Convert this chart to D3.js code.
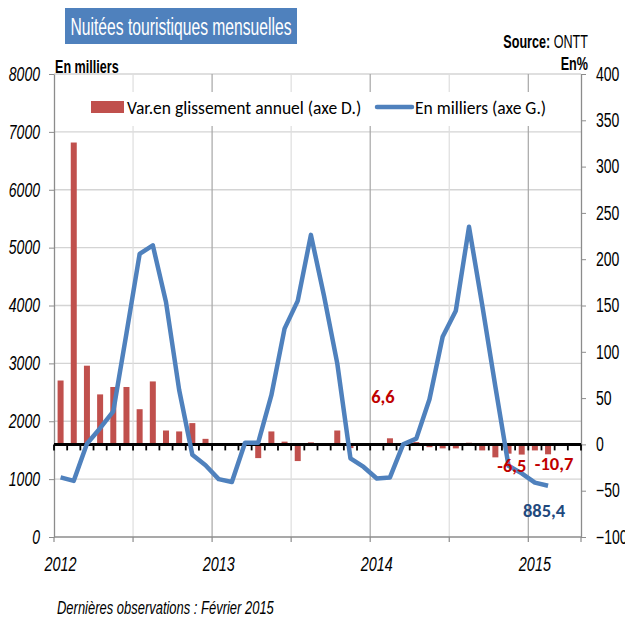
<!DOCTYPE html>
<html>
<head>
<meta charset="utf-8">
<script src="https://cdn.jsdelivr.net/npm/d3@7"></script>
<style>
  body { margin: 0; background: #fff; }
  .narrow { font-family: "Liberation Sans", Arial, sans-serif; }
  .cal { font-family: Carlito, Calibri, Lato, sans-serif; }
</style>
</head>
<body>
<svg id="chart" width="625" height="621"></svg>
<script>
// months Jan 2012 .. Apr 2015 (axis runs to May 2015)
const months = d3.timeMonth.range(new Date(2012, 0, 1), new Date(2015, 4, 1));

// nuitées, en milliers (axe G.), Jan 2012 .. Feb 2015
const nuitees = [
  1030, 970, 1610, 1880, 2170, 3520, 4890, 5040, 4060, 2540, 1420, 1240,
  1000, 950, 1630, 1630, 2450, 3600, 4080, 5220, 4160, 3000, 1360, 1210,
  1010, 1030, 1600, 1700, 2380, 3460, 3910, 5360, 4010, 2600, 1230, 1100,
  940, 885.4
];

// variation en glissement annuel, % (axe D.)
const variation = [
  69, 326, 85, 54, 62, 62, 38, 68, 15, 14, 23, 6,
  -1.2, -1.2, 0.4, -14.8, 14, 3, -18, 2.2, 1.2, 15, -4, 0.3,
  0.4, 6.6, 0.6, 2.5, -3, -4.3, -4.3, 1.8, -6.5, -14, -10, -11,
  -6.5, -10.7
];

const leftTicks = d3.range(0, 8001, 1000);
const rightTicks = d3.range(-100, 401, 50);
const yearLabels = ["2012", "2013", "2014", "2015"];

const svg = d3.select("#chart");
const pLeft = 54, pRight = 581, pTop = 74, pBottom = 537;

const x = d3.scaleBand().domain(months).range([pLeft, pRight]).padding(0);
const xc = d => x(d) + x.bandwidth() / 2;
const yL = d3.scaleLinear().domain([0, 8000]).range([pBottom, pTop]);
const yR = d3.scaleLinear().domain([-100, 400]).range([pBottom, pTop]);

// title
svg.append("rect").attr("x", 65).attr("y", 8).attr("width", 232).attr("height", 36)
  .attr("fill", "#4f81bd");
svg.append("text").attr("x", 181).attr("y", 35)
  .attr("text-anchor", "middle").attr("fill", "#fff").attr("font-size", 23)
  .style("font-family", "'Liberation Sans', Arial, sans-serif")
  .attr("textLength", 221).attr("lengthAdjust", "spacingAndGlyphs")
  .text("Nuitées touristiques mensuelles");

// grid
const grid = svg.append("g");
leftTicks.filter(d => d > 0).forEach(d => {
  grid.append("line").attr("x1", pLeft).attr("x2", pRight)
    .attr("y1", yL(d)).attr("y2", yL(d)).attr("stroke", "#d4d4d4").attr("stroke-width", 1.3);
});
const halfYears = months.filter(m => m.getMonth() % 6 === 0 && m > months[0]);
halfYears.forEach(m => {
  grid.append("line").attr("x1", x(m)).attr("x2", x(m))
    .attr("y1", pTop).attr("y2", pBottom)
    .attr("stroke", m.getMonth() === 0 ? "#a6a6a6" : "#dedede").attr("stroke-width", 1.2);
});

// legend background
svg.append("rect").attr("x", 80).attr("y", 92).attr("width", 492).attr("height", 34).attr("fill", "#fff");

// bars
const barW = 6;
svg.append("g").selectAll("rect").data(variation).join("rect")
  .attr("x", (d, i) => xc(months[i]) - barW / 2)
  .attr("y", d => yR(Math.max(0, d)))
  .attr("width", barW)
  .attr("height", d => Math.abs(yR(d) - yR(0)))
  .attr("fill", "#c0504d");

// left axis
const gL = svg.append("g").attr("transform", `translate(${pLeft},0)`)
  .call(d3.axisLeft(yL).tickValues(leftTicks).tickFormat(d3.format("d"))
    .tickSize(5).tickPadding(9).tickSizeOuter(0));
gL.select(".domain").attr("stroke", "#8c8c8c").attr("stroke-width", 1.3);
gL.selectAll(".tick line").attr("stroke", "#8c8c8c");
gL.selectAll("text").attr("class", "narrow").attr("font-size", 19.5)
  .attr("font-style", "italic").attr("fill", "#000");

// right axis
const gR = svg.append("g").attr("transform", `translate(${pRight},0)`)
  .call(d3.axisRight(yR).tickValues(rightTicks).tickSize(5).tickPadding(10).tickSizeOuter(0));
gR.select(".domain").attr("stroke", "#8c8c8c").attr("stroke-width", 1.3);
gR.selectAll(".tick line").attr("stroke", "#8c8c8c");
gR.selectAll("text").attr("class", "narrow").attr("font-size", 19.5).attr("fill", "#000");

// bottom axis
const gB = svg.append("g");
gB.append("line").attr("x1", pLeft).attr("x2", pRight).attr("y1", pBottom).attr("y2", pBottom)
  .attr("stroke", "#8c8c8c").attr("stroke-width", 1.3);
const halfTicks = months.filter(m => m.getMonth() % 6 === 0).map(m => x(m)).concat([pRight]);
gB.selectAll("line.t").data(halfTicks).join("line").attr("class", "t")
  .attr("x1", d => d).attr("x2", d => d).attr("y1", pBottom).attr("y2", pBottom + 5)
  .attr("stroke", "#8c8c8c").attr("stroke-width", 1.2);
const janMonths = months.filter(m => m.getMonth() === 0);
gB.selectAll("text").data(janMonths).join("text")
  .attr("class", "narrow").attr("x", d => xc(d)).attr("y", 571)
  .attr("text-anchor", "middle").attr("font-size", 20).attr("font-style", "italic")
  .text((d, i) => yearLabels[i]);

// zero line of right axis with monthly ticks
const y0 = yR(0);
svg.append("line").attr("x1", pLeft).attr("x2", pRight).attr("y1", y0).attr("y2", y0)
  .attr("stroke", "#000").attr("stroke-width", 3);
const bounds = months.map(m => x(m)).concat([pRight]);
svg.append("g").selectAll("line").data(bounds).join("line")
  .attr("x1", d => d).attr("x2", d => d).attr("y1", y0).attr("y2", y0 + 6)
  .attr("stroke", "#000").attr("stroke-width", 1.8);

// line
const line = d3.line().x((d, i) => xc(months[i])).y(d => yL(d));
svg.append("path").datum(nuitees).attr("d", line)
  .attr("fill", "none").attr("stroke", "#4f81bd").attr("stroke-width", 4.5)
  .attr("stroke-linejoin", "round");

// legend
svg.append("rect").attr("x", 91).attr("y", 101).attr("width", 33).attr("height", 12).attr("fill", "#c0504d");
svg.append("text").attr("class", "cal").attr("x", 127).attr("y", 114).attr("font-size", 17.5)
  .text("Var.en glissement annuel (axe D.)");
svg.append("line").attr("x1", 377).attr("x2", 412).attr("y1", 107).attr("y2", 107)
  .attr("stroke", "#4f81bd").attr("stroke-width", 4.5).attr("stroke-linecap", "round");
svg.append("text").attr("class", "cal").attr("x", 415).attr("y", 114).attr("font-size", 17.5)
  .text("En milliers (axe G.)");

// headers
svg.append("text").attr("class", "narrow").attr("x", 55).attr("y", 73)
  .attr("font-size", 17.5).attr("font-weight", "bold").text("En milliers");
const src = svg.append("text").attr("class", "narrow").attr("x", 588).attr("y", 48)
  .attr("text-anchor", "end").attr("font-size", 17.5);
src.append("tspan").attr("font-weight", "bold").text("Source:");
src.append("tspan").text(" ONTT");
svg.append("text").attr("class", "narrow").attr("x", 588).attr("y", 70)
  .attr("text-anchor", "end").attr("font-size", 17.5).attr("font-weight", "bold").text("En%");

// data labels
const iFeb14 = 25, iJan15 = 36, iFeb15 = 37;
const lab = (txt, px, py, col) => svg.append("text").attr("class", "cal")
  .attr("x", px).attr("y", py).attr("text-anchor", "middle").attr("dominant-baseline", "middle")
  .attr("font-size", 18.5).attr("font-weight", "bold").attr("fill", col).text(txt);
lab("6,6", xc(months[iFeb14]) - 7, yR(variation[iFeb14]) - 40, "#c00000");
lab("-6,5", xc(months[iJan15]) - 23, yR(variation[iJan15]) + 17, "#c00000");
lab("-10,7", xc(months[iFeb15]) + 6, yR(variation[iFeb15]) + 11, "#c00000");
lab("885,4", xc(months[iFeb15]) - 4, yL(nuitees[iFeb15]) + 27, "#1f497d");

// footer
svg.append("text").attr("class", "narrow").attr("x", 57).attr("y", 614)
  .attr("font-size", 18).attr("font-style", "italic")
  .text("Dernières observations : Février 2015");

// squeeze the Arial-like texts to look like the condensed face of the original
svg.selectAll("text.narrow").each(function() {
  const len = this.getComputedTextLength();
  d3.select(this).attr("textLength", len * 0.72).attr("lengthAdjust", "spacingAndGlyphs");
});
</script>
</body>
</html>
